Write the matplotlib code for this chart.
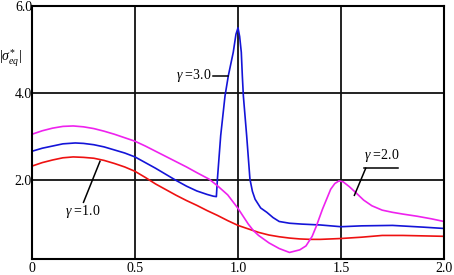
import matplotlib
matplotlib.use("Agg")
import matplotlib.pyplot as plt

plt.rcParams['font.family'] = ['Liberation Serif', 'DejaVu Serif']
plt.rcParams['mathtext.fontset'] = 'custom'
plt.rcParams['mathtext.rm'] = 'Liberation Serif'
plt.rcParams['mathtext.it'] = 'Liberation Serif:italic'

# ---- data ----
x_red = [0, 0.05, 0.1, 0.15, 0.2, 0.25, 0.3, 0.35, 0.4, 0.45, 0.5, 0.55, 0.6,
         0.65, 0.7, 0.75, 0.8, 0.85, 0.9, 0.95, 1.0, 1.05, 1.1, 1.15, 1.2, 1.25,
         1.3, 1.35, 1.4, 1.45, 1.5, 1.6, 1.7, 1.8, 1.9, 2.0]
y_red = [2.33, 2.41, 2.47, 2.52, 2.54, 2.53, 2.51, 2.46, 2.39, 2.31, 2.21, 2.07,
         1.92, 1.79, 1.66, 1.54, 1.43, 1.31, 1.2, 1.08, 0.97, 0.89, 0.81, 0.75,
         0.71, 0.68, 0.66, 0.65, 0.65, 0.66, 0.67, 0.7, 0.74, 0.74, 0.73, 0.72]

x_blue = [0, 0.05, 0.1, 0.15, 0.21, 0.25, 0.3, 0.35, 0.4, 0.45, 0.5, 0.55, 0.6,
          0.65, 0.7, 0.75, 0.8, 0.85, 0.88, 0.895, 0.9, 0.916, 0.937, 0.953,
          0.977, 0.99, 1.0, 1.008, 1.016, 1.021, 1.026, 1.042, 1.058, 1.07, 1.083,
          1.11, 1.14, 1.17, 1.2, 1.25, 1.31, 1.4, 1.5, 1.6, 1.75, 1.9, 2.0]
y_blue = [2.67, 2.74, 2.79, 2.84, 2.86, 2.85, 2.82, 2.77, 2.7, 2.63, 2.54, 2.41,
          2.28, 2.14, 2.0, 1.87, 1.76, 1.68, 1.64, 1.63, 2.03, 3.03, 3.94, 4.4,
          4.94, 5.35, 5.5, 5.3, 4.94, 4.4, 3.94, 3.03, 2.03, 1.75, 1.57,
          1.37, 1.27, 1.15, 1.06, 1.02, 1.0, 0.98, 0.94, 0.96, 0.97, 0.93, 0.9]

x_mag = [0, 0.05, 0.1, 0.15, 0.2, 0.25, 0.3, 0.35, 0.4, 0.45, 0.5, 0.55, 0.6,
         0.65, 0.7, 0.75, 0.8, 0.86, 0.9, 0.95, 1.0, 1.05, 1.075, 1.1, 1.15,
         1.2, 1.25, 1.3, 1.33, 1.36, 1.38, 1.41, 1.43, 1.45, 1.47, 1.49, 1.51,
         1.54, 1.57, 1.61, 1.65, 1.7, 1.75, 1.8, 1.87, 1.94, 2.0]
y_mag = [3.06, 3.14, 3.2, 3.24, 3.25, 3.23, 3.19, 3.13, 3.06, 2.98, 2.9, 2.79,
         2.67, 2.55, 2.43, 2.31, 2.18, 2.03, 1.88, 1.67, 1.36, 1.0, 0.85, 0.74,
         0.57, 0.44, 0.35, 0.41, 0.5, 0.72, 0.95, 1.34, 1.57, 1.8, 1.93, 1.99,
         1.97, 1.86, 1.73, 1.55, 1.42, 1.32, 1.27, 1.23, 1.18, 1.12, 1.06]

x_ticks = [0, 0.5, 1.0, 1.5, 2.0]
x_labels = ['0', '0.5', '1.0', '1.5', '2.0']
y_ticks = [2.0, 4.0, 6.0]
y_labels = ['2.0', '4.0', '6.0']

fig = plt.figure(figsize=(4.54, 2.75), dpi=100)
ax = fig.add_axes([32 / 454, 16 / 275, 412 / 454, 253 / 275])

ax.plot(x_red, y_red, color='#ee1111', lw=1.2)
ax.plot(x_blue, y_blue, color='#1414d8', lw=1.2)
ax.plot(x_mag, y_mag, color='#ee22ee', lw=1.2)

ax.set_xlim(0, 2.0)
ax.set_ylim(0.2, 6.0)
ax.set_xticks(x_ticks)
ax.set_xticklabels(x_labels)
ax.set_yticks(y_ticks)
ax.set_yticklabels(y_labels)
ax.tick_params(length=0, labelsize=10, colors='black')
ax.tick_params(axis='y', pad=0)
ax.tick_params(axis='x', pad=2)
ax.grid(True, color='#111111', lw=1.3)
for sp in ax.spines.values():
    sp.set_linewidth(1.5)

# annotations
ax.text(0.245, 1.29, r'$\gamma$ =1.0', fontsize=10, ha='center', va='center')
ax.plot([0.25, 0.33], [1.5, 2.44], color='black', lw=1.1)

ax.text(0.87, 4.40, r'$\gamma$ =3.0', fontsize=10, ha='right', va='center')
ax.plot([0.877, 0.953], [4.40, 4.40], color='black', lw=1.1)

ax.text(1.696, 2.58, r'$\gamma$ =2.0', fontsize=10, ha='center', va='center')
ax.plot([1.61, 1.775], [2.28, 2.28], color='black', lw=1.1)
ax.plot([1.62, 1.565], [2.28, 1.66], color='black', lw=1.1)

fig.text(10 / 454, 1 - 58 / 275, r'$|\sigma^{*}_{eq}|$', fontsize=10,
         ha='center', va='center')

fig.savefig('out.png', dpi=100)
